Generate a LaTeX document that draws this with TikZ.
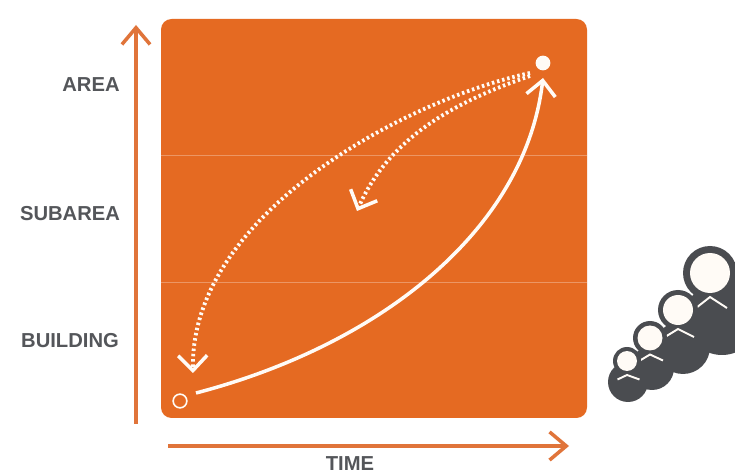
\documentclass[tikz,border=0pt]{standalone}
\usepackage{fontspec}
\setmainfont{Liberation Sans}
\usepackage{xcolor}
\usetikzlibrary{arrows.meta, positioning, calc}
\definecolor{panelorange}{HTML}{E56A22}
\definecolor{axisorange}{HTML}{E0743A}
\definecolor{labelgray}{HTML}{54565A}
\definecolor{figgray}{HTML}{4A4C50}
\definecolor{creamwhite}{HTML}{FFFBF6}
\tikzset{
	levellabel/.style={font=\bfseries\fontsize{11.5}{13}\selectfont, text=labelgray, inner sep=0pt},
	axisline/.style={draw=axisorange, line width=2pt, -{Straight Barb[length=9.5pt, width=16pt, line width=2pt]}},
	levelline/.style={draw=white, opacity=0.3, line width=0.5pt},
	journey/.style={draw=creamwhite, line width=2pt, -{Straight Barb[length=8.5pt, width=16.5pt, line width=2pt]}},
	dotjourney/.style={journey, line width=2.2pt, dash pattern=on 1.4pt off 1.6pt},
	chevron/.style={draw=creamwhite, line width=1.1pt},
}
\begin{document}
\begin{tikzpicture}[x=0.02cm, y=-0.02cm]
	\useasboundingbox (0,0) rectangle (735,473);
	\fill[white] (0,0) rectangle (735,473);
	
	% Panel
	\fill[panelorange, rounded corners=6pt] (161,19) rectangle (587,418);
	\coordinate (levelA) at (161,155);
	\coordinate (levelAend) at (587,155);
	\coordinate (levelB) at (161,282);
	\coordinate (levelBend) at (587,282);
	\draw[levelline] (levelA) -- (levelAend);
	\draw[levelline] (levelB) -- (levelBend);
	
	% Axes
	\coordinate (yfoot) at (136,424);
	\coordinate (yhead) at (136,25);
	\coordinate (xfoot) at (168,446);
	\coordinate (xhead) at (569,446);
	\draw[axisline] (yfoot) -- (yhead);
	\draw[axisline] (xfoot) -- (xhead);
	
	% Labels
	\node[levellabel] (area) at (91,85) {AREA};
	\node[levellabel] (subarea) at (70,214) {SUBAREA};
	\node[levellabel] (building) at (70,341) {BUILDING};
	\node[levellabel] (time) at (350,463.5) {TIME};
	
	% Start and end
	\node[circle, draw=creamwhite, line width=0.9pt, minimum size=7.8pt, inner sep=0pt] (start) at (180,401) {};
	\node[circle, fill=creamwhite, minimum size=8.4pt, inner sep=0pt] (goal) at (543,63) {};
	\coordinate (goaltip) at (543,78);
	\coordinate (backfrom) at (530,73);
	\coordinate (backmid) at (530,76);
	\coordinate (starttip) at (193,373);
	\coordinate (midtip) at (357,211);
	
	% Curves
	\draw[journey] (196,393) .. controls (380,345) and (525,230) .. (goaltip);
	\draw[dotjourney] (backfrom) .. controls (405,100) and (190,215) .. (starttip);
	\draw[dotjourney] (backmid) .. controls (460,100) and (390,135) .. (midtip);
	
	% People
	\foreach \hx/\hy/\ho/\hi/\bx/\by/\br/\cw/\cd in {
		710/273/27/20/722/318/37/14/11,
		678/310/20/15/683/347/27/13/8,
		650/338/17/12.5/652/368/22/10/6,
		627/361/14/10/628/382/20/9.5/4.5}{
		\fill[figgray] (\bx,\by) circle (\br);
		\fill[figgray] (\hx,\hy) circle (\ho);
		\fill[creamwhite] (\hx,\hy) circle (\hi);
		\draw[chevron] (\hx-\cw,\hy+\hi+\cd+4) -- (\hx,\hy+\hi+4) -- (\hx+\cw+3,\hy+\hi+\cd+4);
	}
\end{tikzpicture}
\end{document}
